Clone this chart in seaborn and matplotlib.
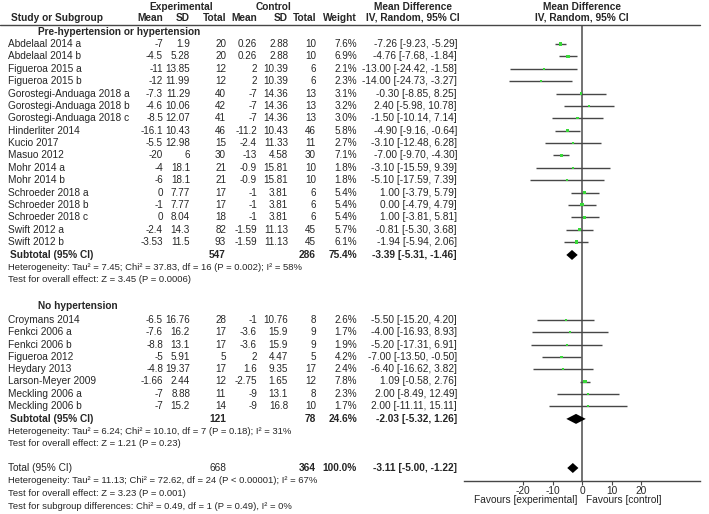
import matplotlib
matplotlib.use("Agg")
import matplotlib.pyplot as plt
from matplotlib.lines import Line2D
import seaborn as sns
import pandas as pd
import numpy as np

sns.set_theme(style="white")
plt.rcParams['font.family'] = ['Liberation Sans', 'DejaVu Sans']

# ---------------- data ----------------
names1 = ["Abdelaal 2014 a", "Abdelaal 2014 b", "Figueroa 2015 a", "Figueroa 2015 b",
          "Gorostegi-Anduaga 2018 a", "Gorostegi-Anduaga 2018 b", "Gorostegi-Anduaga 2018 c",
          "Hinderliter 2014", "Kucio 2017", "Masuo 2012", "Mohr 2014 a", "Mohr 2014 b",
          "Schroeder 2018 a", "Schroeder 2018 b", "Schroeder 2018 c", "Swift 2012 a", "Swift 2012 b"]
exp_mean1 = ["-7", "-4.5", "-11", "-12", "-7.3", "-4.6", "-8.5", "-16.1", "-5.5", "-20", "-4", "-6",
             "0", "-1", "0", "-2.4", "-3.53"]
exp_sd1 = ["1.9", "5.28", "13.85", "11.99", "11.29", "10.06", "12.07", "10.43", "12.98", "6",
           "18.1", "18.1", "7.77", "7.77", "8.04", "14.3", "11.5"]
exp_n1 = [20, 20, 12, 12, 40, 42, 41, 46, 15, 30, 21, 21, 17, 17, 18, 82, 93]
ctl_mean1 = ["0.26", "0.26", "2", "2", "-7", "-7", "-7", "-11.2", "-2.4", "-13", "-0.9", "-0.9",
             "-1", "-1", "-1", "-1.59", "-1.59"]
ctl_sd1 = ["2.88", "2.88", "10.39", "10.39", "14.36", "14.36", "14.36", "10.43", "11.33", "4.58",
           "15.81", "15.81", "3.81", "3.81", "3.81", "11.13", "11.13"]
ctl_n1 = [10, 10, 6, 6, 13, 13, 13, 46, 11, 30, 10, 10, 6, 6, 6, 45, 45]
weight1 = [7.6, 6.9, 2.1, 2.3, 3.1, 3.2, 3.0, 5.8, 2.7, 7.1, 1.8, 1.8, 5.4, 5.4, 5.4, 5.7, 6.1]
md1 = [-7.26, -4.76, -13.00, -14.00, -0.30, 2.40, -1.50, -4.90, -3.10, -7.00, -3.10, -5.10,
       1.00, 0.00, 1.00, -0.81, -1.94]
lo1 = [-9.23, -7.68, -24.42, -24.73, -8.85, -5.98, -10.14, -9.16, -12.48, -9.70, -15.59, -17.59,
       -3.79, -4.79, -3.81, -5.30, -5.94]
hi1 = [-5.29, -1.84, -1.58, -3.27, 8.25, 10.78, 7.14, -0.64, 6.28, -4.30, 9.39, 7.39,
       5.79, 4.79, 5.81, 3.68, 2.06]

names2 = ["Croymans 2014", "Fenkci 2006 a", "Fenkci 2006 b", "Figueroa 2012", "Heydary 2013",
          "Larson-Meyer 2009", "Meckling 2006 a", "Meckling 2006 b"]
exp_mean2 = ["-6.5", "-7.6", "-8.8", "-5", "-4.8", "-1.66", "-7", "-7"]
exp_sd2 = ["16.76", "16.2", "13.1", "5.91", "19.37", "2.44", "8.88", "15.2"]
exp_n2 = [28, 17, 17, 5, 17, 12, 11, 14]
ctl_mean2 = ["-1", "-3.6", "-3.6", "2", "1.6", "-2.75", "-9", "-9"]
ctl_sd2 = ["10.76", "15.9", "15.9", "4.47", "9.35", "1.65", "13.1", "16.8"]
ctl_n2 = [8, 9, 9, 5, 17, 12, 8, 10]
weight2 = [2.6, 1.7, 1.9, 4.2, 2.4, 7.8, 2.3, 1.7]
md2 = [-5.50, -4.00, -5.20, -7.00, -6.40, 1.09, 2.00, 2.00]
lo2 = [-15.20, -16.93, -17.31, -13.50, -16.62, -0.58, -8.49, -11.11]
hi2 = [4.20, 8.93, 6.91, -0.50, 3.82, 2.76, 12.49, 15.11]

group_labels = ["Pre-hypertension or hypertension", "No hypertension"]
sub_exp_n = [547, 121]
sub_ctl_n = [286, 78]
sub_weight = ["75.4%", "24.6%"]
sub_md = [-3.39, -2.03]
sub_lo = [-5.31, -5.32]
sub_hi = [-1.46, 1.26]
sub_het = ["Heterogeneity: Tau\u00b2 = 7.45; Chi\u00b2 = 37.83, df = 16 (P = 0.002); I\u00b2 = 58%",
           "Heterogeneity: Tau\u00b2 = 6.24; Chi\u00b2 = 10.10, df = 7 (P = 0.18); I\u00b2 = 31%"]
sub_test = ["Test for overall effect: Z = 3.45 (P = 0.0006)",
            "Test for overall effect: Z = 1.21 (P = 0.23)"]

tot_exp_n = 668
tot_ctl_n = 364
tot_weight = "100.0%"
tot_md, tot_lo, tot_hi = -3.11, -5.00, -1.22
tot_het = "Heterogeneity: Tau\u00b2 = 11.13; Chi\u00b2 = 72.62, df = 24 (P < 0.00001); I\u00b2 = 67%"
tot_test = "Test for overall effect: Z = 3.23 (P = 0.001)"
sub_diff = "Test for subgroup differences: Chi\u00b2 = 0.49, df = 1 (P = 0.49), I\u00b2 = 0%"

xticks = [-20, -10, 0, 10, 20]
fav_left = "Favours [experimental]"
fav_right = "Favours [control]"

# ---------------- layout ----------------
W, H = 709, 514
fig = plt.figure(figsize=(W / 100, H / 100), dpi=100)
FS = 7.3
FS_NUM = 7.1
FS_NOTE = 6.8
TC = '#262626'
LC = '#474747'
GREEN = '#3ad83a'


def fx(x):
    return x / W


def fy(y):
    return 1 - y / H


def txt(x, y, s, ha='left', bold=False, size=None):
    fig.text(fx(x), fy(y), s, ha=ha, va='center', fontsize=size or FS, color=TC,
             fontweight='bold' if bold else 'normal')


# column right edges (px)
X_NAME = 8
X_EM, X_ES, X_EN = 163, 190, 226
X_CM, X_CS, X_CN = 257, 288, 316
X_W = 357
X_MD = 457

# header
txt(181, 7, "Experimental", 'center', True)
txt(273, 7, "Control", 'center', True)
txt(413, 7, "Mean Difference", 'center', True)
txt(582, 7, "Mean Difference", 'center', True)
txt(11, 18, "Study or Subgroup", 'left', True)
for x, s in [(X_EM, "Mean"), (X_ES, "SD"), (X_EN, "Total"), (X_CM, "Mean"), (X_CS, "SD"),
             (X_CN, "Total"), (X_W, "Weight")]:
    txt(x, 18, s, 'right', True)
txt(413, 18, "IV, Random, 95% CI", 'center', True)
txt(582, 18, "IV, Random, 95% CI", 'center', True)
fig.add_artist(Line2D([0, fx(700)], [fy(25), fy(25)], color=LC, lw=1.0))

groups = [
    dict(names=names1, em=exp_mean1, es=exp_sd1, en=exp_n1, cm=ctl_mean1, cs=ctl_sd1, cn=ctl_n1,
         w=weight1, md=md1, lo=lo1, hi=hi1, head_y=32, first_y=44, step=12.38),
    dict(names=names2, em=exp_mean2, es=exp_sd2, en=exp_n2, cm=ctl_mean2, cs=ctl_sd2, cn=ctl_n2,
         w=weight2, md=md2, lo=lo2, hi=hi2, head_y=306, first_y=320, step=12.3),
]

rows = []
diamonds = []
for gi, g in enumerate(groups):
    txt(38, g['head_y'], group_labels[gi], 'left', True)
    n = len(g['names'])
    for i in range(n):
        y = g['first_y'] + i * g['step']
        txt(X_NAME, y, g['names'][i])
        txt(X_EM, y, g['em'][i], 'right', size=FS_NUM)
        txt(X_ES, y, g['es'][i], 'right', size=FS_NUM)
        txt(X_EN, y, str(g['en'][i]), 'right', size=FS_NUM)
        txt(X_CM, y, g['cm'][i], 'right', size=FS_NUM)
        txt(X_CS, y, g['cs'][i], 'right', size=FS_NUM)
        txt(X_CN, y, str(g['cn'][i]), 'right', size=FS_NUM)
        txt(X_W, y, f"{g['w'][i]:.1f}%", 'right', size=FS_NUM)
        txt(X_MD, y, f"{g['md'][i]:.2f} [{g['lo'][i]:.2f}, {g['hi'][i]:.2f}]", 'right')
        rows.append(dict(md=g['md'][i], lo=g['lo'][i], hi=g['hi'][i], w=g['w'][i], y=y))
    ys = g['first_y'] + n * g['step'] + 0.5
    txt(10, ys, "Subtotal (95% CI)", 'left', True)
    txt(X_EN, ys, str(sub_exp_n[gi]), 'right', True)
    txt(X_CN, ys, str(sub_ctl_n[gi]), 'right', True)
    txt(X_W, ys, sub_weight[gi], 'right', True)
    txt(X_MD, ys, f"{sub_md[gi]:.2f} [{sub_lo[gi]:.2f}, {sub_hi[gi]:.2f}]", 'right', True)
    diamonds.append((sub_md[gi], sub_lo[gi], sub_hi[gi], ys))
    txt(X_NAME, ys + 12.5, sub_het[gi], size=FS_NOTE)
    txt(X_NAME, ys + 25, sub_test[gi], size=FS_NOTE)

yt = 468
txt(X_NAME, yt, "Total (95% CI)")
txt(X_EN, yt, str(tot_exp_n), 'right')
txt(X_CN, yt, str(tot_ctl_n), 'right', True)
txt(X_W, yt, tot_weight, 'right', True)
txt(X_MD, yt, f"{tot_md:.2f} [{tot_lo:.2f}, {tot_hi:.2f}]", 'right', True)
diamonds.append((tot_md, tot_lo, tot_hi, yt))
txt(X_NAME, yt + 12.7, tot_het, size=FS_NOTE)
txt(X_NAME, yt + 25.4, tot_test, size=FS_NOTE)
txt(X_NAME, yt + 38.1, sub_diff, size=FS_NOTE)

# ---------------- forest axes ----------------
AX_L, AX_R, AX_T, AX_B = 464, 700, 25, 481
ax = fig.add_axes([fx(AX_L), fy(AX_B), (AX_R - AX_L) / W, (AX_B - AX_T) / H])
ax.set_xlim(-40, 40)
ax.set_ylim(AX_B, AX_T)
ax.patch.set_alpha(0)

df = pd.DataFrame(rows)
ax.hlines(df['y'], df['lo'], df['hi'], color=LC, lw=1.0, zorder=2)
sns.scatterplot(data=df, x='md', y='y', size='w', sizes=(1.5, 7), size_norm=(1.7, 7.8),
                marker='s', color=GREEN, linewidth=0, legend=False, ax=ax, zorder=3)
for m, lo, hi, y in diamonds:
    hh = 5.0
    ax.fill([lo, m, hi, m], [y, y - hh, y, y + hh], color='black', lw=0, zorder=4)

ax.axvline(0, color='#5a5a5a', lw=1.2, zorder=1)
for s in ['top', 'left', 'right']:
    ax.spines[s].set_visible(False)
ax.spines['bottom'].set_color(LC)
ax.spines['bottom'].set_linewidth(1.0)
ax.set_yticks([])
ax.set_xticks(xticks)
ax.set_xticklabels([str(t) for t in xticks])
ax.tick_params(axis='x', direction='out', length=3, width=0.8, color=LC, pad=0.5,
               labelsize=FS, labelcolor=TC, bottom=True)
ax.set_xlabel("")
ax.set_ylabel("")

txt(577, 500, fav_left, 'right')
txt(586, 500, fav_right, 'left')

fig.savefig("out.png", dpi=100)
